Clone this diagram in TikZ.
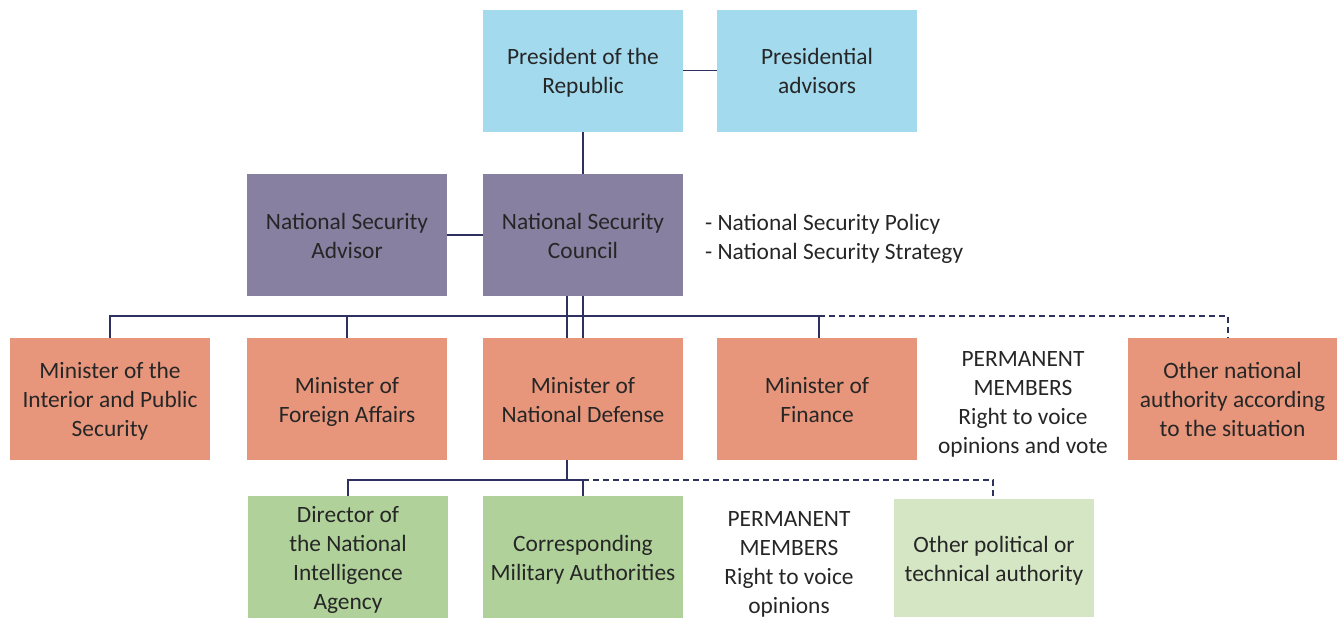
\documentclass[tikz,border=0pt]{standalone}
\usepackage{fontspec}
\setmainfont{Carlito}
\usepackage{tikz}
\definecolor{presblue}{RGB}{163,218,238}
\definecolor{councilgray}{RGB}{135,128,160}
\definecolor{ministersalmon}{RGB}{232,150,123}
\definecolor{agencygreen}{RGB}{176,210,154}
\definecolor{palegreen}{RGB}{213,230,196}
\definecolor{linknavy}{RGB}{46,48,96}
\definecolor{inkgray}{RGB}{38,38,38}

\begin{document}
\begin{tikzpicture}[x=0.5pt, y=-0.5pt,
  box/.style={minimum width=100pt, minimum height=61pt, inner sep=0pt, align=center,
    font=\fontsize{11.7}{14.5}\selectfont, text=inkgray},
  note/.style={align=center, font=\fontsize{11.7}{14.5}\selectfont, text=inkgray},
  rows/.style={text depth=3pt, text height=#1},
  link/.style={draw=linknavy, line width=0.75pt},
  dashlink/.style={link, dash pattern=on 3pt off 2pt}]
  \useasboundingbox (0,0) rectangle (1337,618);
  \node[box, rows=26pt, fill=presblue] (pres) at (583,70.5) {President of the\\Republic};
  \node[box, rows=26pt, fill=presblue] (advisors) at (817,70.5) {Presidential\\advisors};
  \node[box, rows=26pt, fill=councilgray] (nsa) at (347,235) {National Security\\Advisor};
  \node[box, rows=26pt, fill=councilgray] (nsc) at (583,235) {National Security\\Council};
  \node[note, rows=26pt, align=left, anchor=west] (policy) at (698,236) {- National Security Policy\\- National Security Strategy};
  \node[box, rows=40.5pt, fill=ministersalmon] (interior) at (110,399) {Minister of the\\Interior and Public\\Security};
  \node[box, rows=26pt, fill=ministersalmon] (foreign) at (347,399) {Minister of\\Foreign Affairs};
  \node[box, rows=26pt, fill=ministersalmon] (defense) at (583,399) {Minister of\\National Defense};
  \node[box, rows=26pt, fill=ministersalmon] (finance) at (817,399) {Minister of\\Finance};
  \node[note, rows=55pt] (voters) at (1023,401.5) {PERMANENT\\MEMBERS\\Right to voice\\opinions and vote};
  \node[box, rows=40.5pt, fill=ministersalmon, minimum width=104.5pt] (other) at (1232.5,399) {Other national\\authority according\\to the situation};
  \node[box, rows=55pt, fill=agencygreen] (director) at (348,557) {Director of\\the National\\Intelligence\\Agency};
  \node[box, rows=26pt, fill=agencygreen] (military) at (583,557) {Corresponding\\Military Authorities};
  \node[note, rows=55pt] (voices) at (789,561.5) {PERMANENT\\MEMBERS\\Right to voice\\opinions};
  \node[box, rows=26pt, fill=palegreen, minimum height=59pt] (political) at (994,558) {Other political or\\technical authority};
  % council links
  \draw[link] (pres) -- (advisors);
  \draw[link] (pres) -- (nsc);
  \draw[link] (nsa) -- (nsc);
  \draw[link] ([xshift=-8pt]nsc.south) -- ([xshift=-8pt]defense.north);
  \draw[link] (nsc.south) -- (defense.north);
  % ministers bus
  \coordinate (b1) at (110,316);
  \coordinate (b2) at (819,316);
  \coordinate (b3) at (1228,316);
  \draw[link] (interior.north) -- (b1) -- (b2) -- (b2 |- finance.north);
  \draw[link] (foreign.north) -- (foreign.north |- b1);
  \draw[dashlink] (b2) -- (b3) -- (b3 |- other.north);
  % agencies bus
  \coordinate (c1) at (348,480);
  \coordinate (c2) at (583,480);
  \coordinate (c3) at (993,480);
  \draw[link] ([xshift=-8pt]defense.south) -- ([xshift=-8pt]defense.south |- c1);
  \draw[link] (director.north) -- (c1) -- (c2) -- (military.north);
  \draw[dashlink] (c2) -- (c3) -- (c3 |- political.north);
\end{tikzpicture}
\end{document}
